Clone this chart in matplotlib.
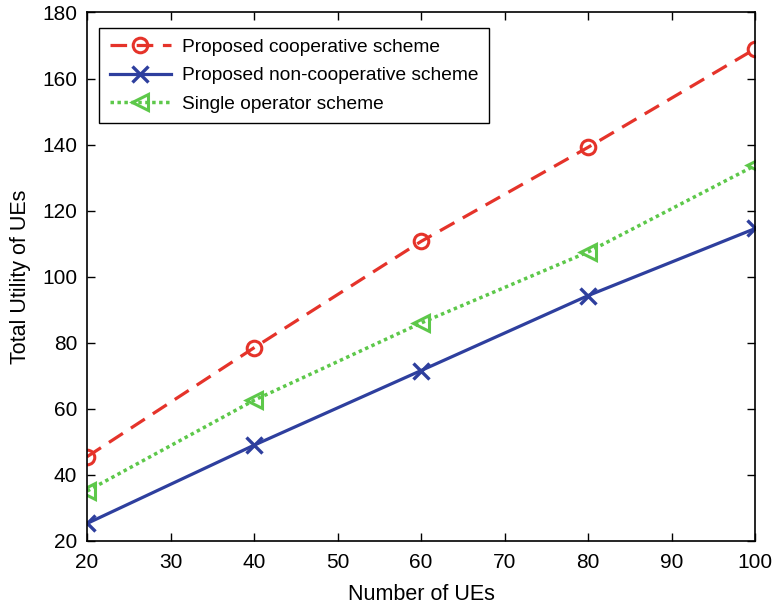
import matplotlib.pyplot as plt

plt.rcParams["font.family"] = ["Liberation Sans", "DejaVu Sans"]

# data
num_ues = [20, 40, 60, 80, 100]
coop = [45.5, 78.5, 110.7, 139.2, 169.0]
noncoop = [25.3, 49.0, 71.6, 94.3, 114.6]
single = [35.1, 62.6, 86.0, 107.5, 133.7]

red = "#E5332A"
blue = "#2E3F9E"
green = "#5DC84A"

fig = plt.figure(figsize=(7.77, 6.11), dpi=100)
ax = fig.add_axes([0.112, 0.1146, 0.860, 0.865])

ax.plot(num_ues, coop, color=red, linestyle=(0, (5.2, 3)), linewidth=2.3,
        marker="o", markersize=10.5, markerfacecolor="none", markeredgewidth=2.2,
        label="Proposed cooperative scheme")
ax.plot(num_ues, noncoop, color=blue, linestyle="-", linewidth=2.3,
        marker="x", markersize=11, markeredgewidth=2.4,
        label="Proposed non-cooperative scheme")
ax.plot(num_ues, single, color=green, linestyle=(0, (1, 1)), linewidth=2.5,
        marker="<", markersize=11, markerfacecolor="none", markeredgewidth=2.2,
        label="Single operator scheme")

ax.set_xlim(20, 100)
ax.set_ylim(20, 180)
ax.set_xticks(range(20, 101, 10))
ax.set_yticks(range(20, 181, 20))
ax.tick_params(direction="in", top=True, right=True, labelsize=15,
               length=6, width=1)
ax.tick_params(axis="x", pad=9)
ax.tick_params(axis="y", pad=7)
for s in ax.spines.values():
    s.set_linewidth(1.2)

ax.set_xlabel("Number of UEs", fontsize=15.5, labelpad=8)
ax.set_ylabel("Total Utility of UEs", fontsize=15.5, labelpad=8)

leg = ax.legend(loc="upper left", bbox_to_anchor=(0.018, 0.971), borderaxespad=0,
                fontsize=13.8, handlelength=3.2, handletextpad=0.6,
                fancybox=False, framealpha=1, edgecolor="black",
                borderpad=0.55, labelspacing=0.58)
leg.get_frame().set_linewidth(1.0)

fig.savefig("out.png", dpi=100)
